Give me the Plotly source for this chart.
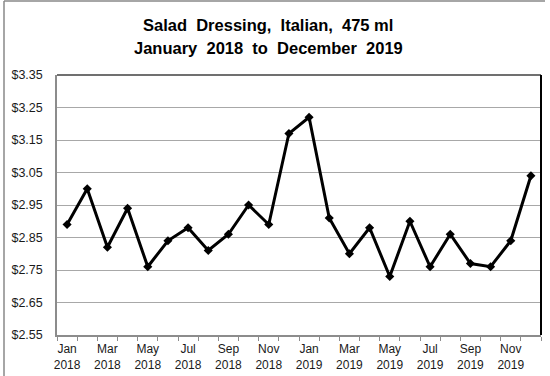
import plotly.graph_objects as go

# Monthly average retail price, Jan 2018 - Dec 2019
months = ["Jan", "Feb", "Mar", "Apr", "May", "Jun",
          "Jul", "Aug", "Sep", "Oct", "Nov", "Dec"]
years = ["2018", "2019"]
prices = [2.89, 3.00, 2.82, 2.94, 2.76, 2.84, 2.88, 2.81, 2.86, 2.95, 2.89, 3.17,
          3.22, 2.91, 2.80, 2.88, 2.73, 2.90, 2.76, 2.86, 2.77, 2.76, 2.84, 3.04]
y_ticks = [2.55, 2.65, 2.75, 2.85, 2.95, 3.05, 3.15, 3.25, 3.35]
title_lines = ["Salad\u00a0 Dressing,\u00a0 Italian,\u00a0 475 ml",
               "January\u00a0 2018\u00a0 to\u00a0 December\u00a0 2019"]

labels = [f"{m}<br>{y}" for y in years for m in months]
x = list(range(len(prices)))
label_idx = x[::2]

W, H = 550, 376
L, R, T, B = 57, 9, 75, 41
pw, ph = W - L - R, H - T - B

fig = go.Figure()
fig.add_trace(go.Scatter(
    x=x, y=prices, mode="lines+markers",
    line=dict(color="black", width=3),
    marker=dict(symbol="diamond", size=7, color="black"),
    hoverinfo="skip", showlegend=False,
))

font = "Liberation Sans, Arial, sans-serif"

fig.update_layout(
    width=W, height=H,
    margin=dict(l=L, r=R, t=T, b=B, pad=0),
    paper_bgcolor="white", plot_bgcolor="white",
    font=dict(family=font, size=12, color="#1a1a1a"),
    xaxis=dict(
        range=[-0.5, len(prices) - 0.5],
        tickmode="array", tickvals=label_idx,
        ticktext=[labels[i] for i in label_idx],
        ticks="", showgrid=False, zeroline=False, automargin=False,
        showline=True, linecolor="#8c8c8c", linewidth=1.5,
        ticklabelstandoff=2,
        minor=dict(tickmode="array",
                   tickvals=[i - 0.5 for i in range(len(prices) + 1)],
                   ticks="outside", ticklen=4, tickwidth=1,
                   tickcolor="#8c8c8c", showgrid=False),
        tickfont=dict(size=12),
    ),
    yaxis=dict(
        range=[y_ticks[0], y_ticks[-1]],
        tickmode="array", tickvals=y_ticks,
        ticktext=[f"${v:.2f}" for v in y_ticks],
        ticks="", showgrid=True, gridcolor="#a8a8a8", gridwidth=1,
        zeroline=False, automargin=False,
        showline=True, linecolor="#8c8c8c", linewidth=1.5,
        ticklabelstandoff=10,
        tickfont=dict(size=12.5),
    ),
)

# Frame: dark top edge and black right edge of the plotting area
fig.add_shape(type="line", xref="paper", yref="paper",
              x0=0, x1=1, y0=1, y1=1, line=dict(color="#404040", width=1.5))
fig.add_shape(type="line", xref="paper", yref="paper",
              x0=1, x1=1, y0=0, y1=1, line=dict(color="black", width=2))

# Outer chart border (left and top edges)
bx = (4 - L) / pw
by = (H - B - 1) / ph
fig.add_shape(type="line", xref="paper", yref="paper",
              x0=bx, x1=(545 - L) / pw, y0=by, y1=by,
              line=dict(color="#888888", width=1.5))
fig.add_shape(type="line", xref="paper", yref="paper",
              x0=bx, x1=bx, y0=by, y1=-B / ph - 0.05,
              line=dict(color="#888888", width=1.5))

# Two-line bold title
for text, ypx in zip(title_lines, [25, 48]):
    fig.add_annotation(
        text=f"<b>{text}</b>", xref="paper", yref="paper",
        x=(268 - L) / pw, y=(H - B - ypx) / ph,
        xanchor="center", yanchor="middle", showarrow=False,
        font=dict(family=font, size=16.5, color="black"),
    )

fig.write_html("out.html")
